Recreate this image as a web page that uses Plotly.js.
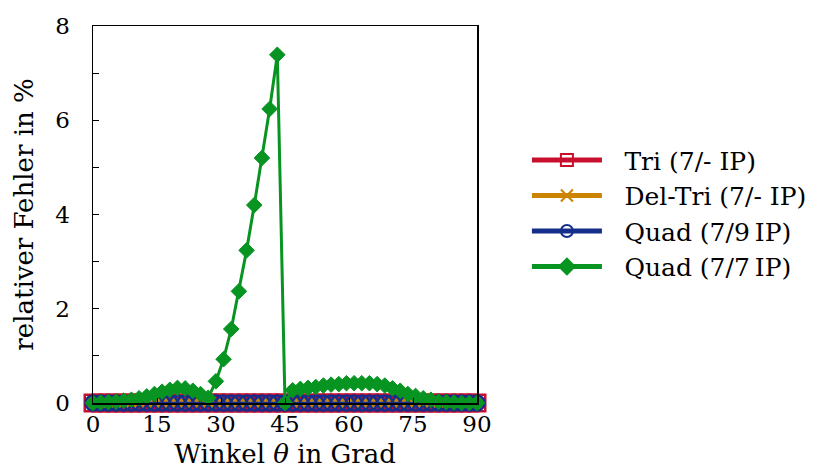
<!DOCTYPE html>
<html>
<head>
<meta charset="utf-8">
<script src="https://cdn.plot.ly/plotly-3.0.1.min.js"></script>
<style>html,body{margin:0;padding:0;background:#fff;}#chart{width:824px;height:470px;}</style>
</head>
<body>
<div id="chart"></div>
<script>
const angles = [0,1.8,3.6,5.4,7.2,9,10.8,12.6,14.4,16.2,18,19.8,21.6,23.4,25.2,27,28.8,30.6,32.4,34.2,36,37.8,39.6,41.4,43.2,45,46.8,48.6,50.4,52.2,54,55.8,57.6,59.4,61.2,63,64.8,66.6,68.4,70.2,72,73.8,75.6,77.4,79.2,81,82.8,84.6,86.4,88.2,90];
const tri7 = [0,0,0,0,0,0,0,0,0,0,0,0,0,0,0,0,0,0,0,0,0,0,0,0,0,0,0,0,0,0,0,0,0,0,0,0,0,0,0,0,0,0,0,0,0,0,0,0,0,0,0];
const delTri7 = [0,0,0,0,0,0,0,0,0,0,0,0,0,0,0,0,0,0,0,0,0,0,0,0,0,0,0,0,0,0,0,0,0,0,0,0,0,0,0,0,0,0,0,0,0,0,0,0,0,0,0];
const quad79 = [0,0,0,0,0,0,0,0,0,0,0,0,0,0,0,0,0,0,0,0,0,0,0,0,0,0,0,0,0,0,0,0,0,0,0,0,0,0,0,0,0,0,0,0,0,0,0,0,0,0,0];
const quad77 = [0,0.01,0.02,0.03,0.05,0.07,0.10,0.14,0.19,0.24,0.28,0.32,0.31,0.26,0.19,0.11,0.46,0.93,1.57,2.37,3.24,4.20,5.20,6.24,7.39,0,0.27,0.30,0.32,0.34,0.37,0.39,0.40,0.42,0.42,0.42,0.42,0.40,0.37,0.31,0.26,0.19,0.15,0.10,0.07,0.03,0.02,0.01,0,0,0];
const seriesNames = ['Tri (7/- IP)','Del-Tri (7/- IP)','Quad (7/9\u2009IP)','Quad (7/7\u2009IP)'];
const xTicks = [0,15,30,45,60,75,90];
const yTicks = [0,2,4,6,8];

const RED = '#c8102e', ORANGE = '#cc8400', BLUE = '#152e8c', GREEN = '#079420';
const FONT = 'DejaVu Serif';
const PAD = '\u2002\u2009';

const traces = [
  {x: angles, y: tri7, name: PAD + seriesNames[0], mode: 'lines+markers', cliponaxis: false,
   line: {color: RED, width: 2.5},
   marker: {symbol: 'square-open', size: 16.5, color: RED, line: {color: RED, width: 2.5}}},
  {x: angles, y: delTri7, name: PAD + seriesNames[1], mode: 'lines+markers', cliponaxis: false,
   line: {color: ORANGE, width: 2.5},
   marker: {symbol: 'x-thin', size: 10, color: ORANGE, line: {color: ORANGE, width: 3}}},
  {x: angles, y: quad79, name: PAD + seriesNames[2], mode: 'lines+markers', cliponaxis: false,
   line: {color: BLUE, width: 2.5},
   marker: {symbol: 'circle-open', size: 15, color: BLUE, line: {color: BLUE, width: 2.5}}},
  {x: angles, y: quad77, name: PAD + seriesNames[3], mode: 'lines+markers', cliponaxis: false,
   line: {color: GREEN, width: 3},
   marker: {symbol: 'diamond', size: 12, color: GREEN, line: {color: GREEN, width: 1}}}
];

const layout = {
  width: 824, height: 470,
  margin: {l: 93, r: 347, t: 26, b: 67, pad: 0},
  paper_bgcolor: '#fff', plot_bgcolor: '#fff',
  font: {family: FONT, size: 25, color: '#000'},
  showlegend: true,
  legend: {x: 1.13, y: 0.705, xanchor: 'left', yanchor: 'top', itemsizing: 'constant', itemwidth: 70,
           font: {family: FONT, size: 25, color: '#000'}, bgcolor: 'rgba(0,0,0,0)', tracegroupgap: 0},
  xaxis: {range: [0, 90], tickvals: xTicks, ticktext: xTicks.map(String), ticks: 'inside', ticklen: 5,
          tickcolor: '#000', showline: true, linecolor: '#000', linewidth: 1.5, mirror: true,
          showgrid: false, zeroline: false, layer: 'above traces',
          tickfont: {family: FONT, size: 23},
          title: {text: 'Winkel <i>θ</i> in Grad', font: {family: FONT, size: 26}, standoff: 8}},
  yaxis: {range: [0, 8], tickvals: yTicks, ticktext: yTicks.map(String), ticks: 'inside', ticklen: 6,
          tickcolor: '#000', showline: true, linecolor: '#000', linewidth: 1.5, mirror: true,
          showgrid: false, zeroline: false, layer: 'above traces', ticklabelstandoff: 17,
          minor: {dtick: 1, ticks: 'inside', ticklen: 6, tickcolor: '#000', showgrid: false},
          tickfont: {family: FONT, size: 23},
          title: {text: 'relativer Fehler in %', font: {family: FONT, size: 26}, standoff: 14}}
};

Plotly.newPlot('chart', traces, layout, {staticPlot: true, displayModeBar: false});
</script>
</body>
</html>
